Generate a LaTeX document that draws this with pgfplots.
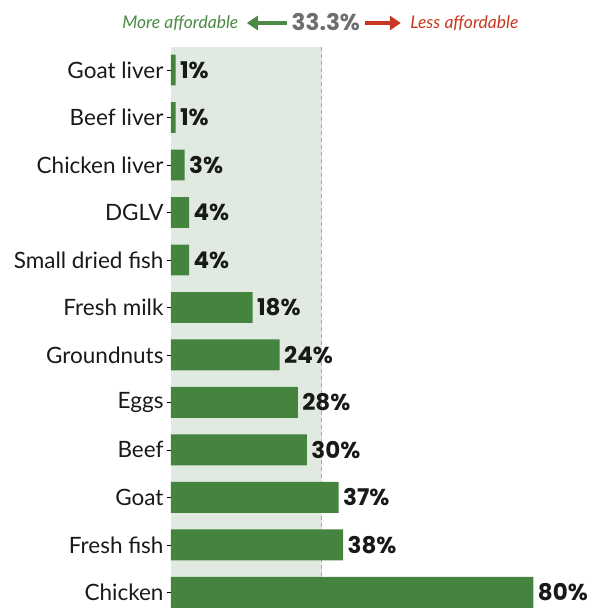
\documentclass[border=0pt]{standalone}
\usepackage{pgfplots}
\pgfplotsset{compat=1.18}
\usetikzlibrary{arrows.meta}
\usepackage{fontspec}
\setmainfont{Lato}
\newfontfamily\heavy{Poppins}
\definecolor{barg}{HTML}{44843F}
\definecolor{bgshade}{HTML}{E1EAE1}
\definecolor{dgray}{HTML}{A8A8A8}
\definecolor{hgray}{HTML}{6D6E71}
\definecolor{hred}{HTML}{C8371F}
\definecolor{hgreen}{HTML}{4A8A45}
\begin{document}
\begin{tikzpicture}
\begin{axis}[
  scale only axis, width=419bp, height=561bp,
  xmin=0, xmax=92.5, ymin=-0.485, ymax=11.33, y dir=reverse,
  axis x line=none, axis y line*=left,
  axis line style={black, line width=0.9bp},
  ytick={0,...,11},
  yticklabels={Goat liver,Beef liver,Chicken liver,DGLV,Small dried fish,Fresh milk,Groundnuts,Eggs,Beef,Goat,Fresh fish,Chicken},
  yticklabel style={font=\fontsize{22.5bp}{24bp}\selectfont, text=black!90},
  major tick length=4bp, tick align=outside, tick style={black, line width=0.6bp},
  /pgf/number format/assume math mode=true,
  clip=false,
]
\fill[bgshade] (axis cs:0,-0.485) rectangle (axis cs:33.3,11.33);
\draw[dgray, line width=0.8bp, dash pattern=on 4bp off 3bp] (axis cs:33.3,-0.485) -- (axis cs:33.3,11.33);
\addplot[xbar, bar width=0.65, fill=barg, draw=none,
  nodes near coords={\pgfmathprintnumber[fixed,precision=0,assume math mode=true]{\pgfplotspointmeta}\%},
  nodes near coords style={anchor=west, xshift=1bp, font=\heavy\fontsize{23bp}{24bp}\selectfont\bfseries, text=black!90}]
  coordinates {(1,0) (1,1) (3,2) (4,3) (4,4) (18,5) (24,6) (28,7) (30,8) (37,9) (38,10) (80,11)};
\node[font=\heavy\fontsize{23bp}{26bp}\selectfont\bfseries, text=hgray] at ([xshift=4bp,yshift=25bp]axis cs:33.3,-0.485) {33.3\%};
\draw[hgreen, line width=4bp, -{Triangle[length=11bp,width=14bp]}] ([xshift=-35bp,yshift=24bp]axis cs:33.3,-0.485) -- ([xshift=-75bp,yshift=24bp]axis cs:33.3,-0.485);
\draw[hred, line width=4bp, -{Triangle[length=11bp,width=14bp]}] ([xshift=43bp,yshift=24bp]axis cs:33.3,-0.485) -- ([xshift=79bp,yshift=24bp]axis cs:33.3,-0.485);
\node[anchor=east, font=\fontsize{17.5bp}{20bp}\selectfont\itshape, text=hgreen] at ([xshift=-80bp,yshift=24bp]axis cs:33.3,-0.485) {More affordable};
\node[anchor=west, font=\fontsize{17.5bp}{20bp}\selectfont\itshape, text=hred] at ([xshift=85bp,yshift=24bp]axis cs:33.3,-0.485) {Less affordable};
\end{axis}
\path (current axis.south west) ++(-171bp,-1bp) rectangle ++(590bp,609bp);
\end{tikzpicture}
\end{document}
